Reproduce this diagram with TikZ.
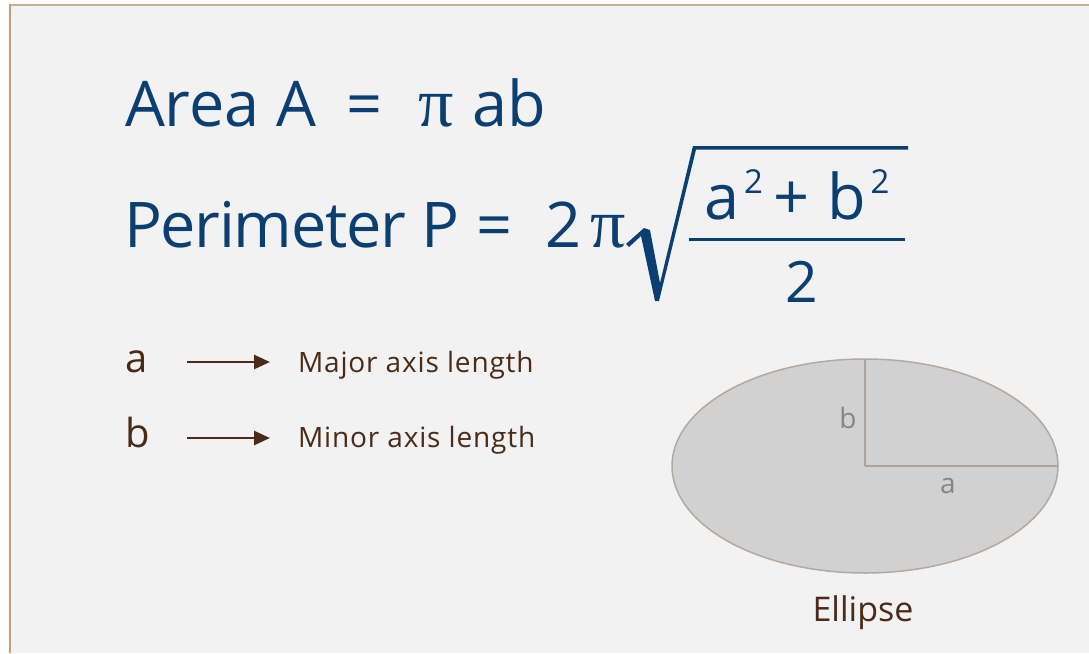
\documentclass[tikz,border=0pt]{standalone}
\usepackage{fontspec}
\setmainfont{Open Sans}
\newfontfamily\pifont{Liberation Serif}
\usetikzlibrary{shapes.geometric,arrows.meta}
\definecolor{bluetxt}{HTML}{0B3F72}
\definecolor{browntxt}{HTML}{4A2B17}
\definecolor{bgcol}{HTML}{F2F2F2}
\definecolor{bordertop}{HTML}{C8AE94}
\definecolor{borderleft}{HTML}{C49C7A}
\definecolor{ellfill}{HTML}{D1D1D1}
\definecolor{elldraw}{HTML}{B3A9A1}
\definecolor{axiscol}{HTML}{ACA39B}
\definecolor{graytxt}{HTML}{858585}
\newcommand{\supdigit}{\raisebox{26pt}{\fontsize{33}{33}\selectfont 2}}
\begin{document}
\begin{tikzpicture}[x=1pt,y=-1pt,
  every node/.style={inner sep=0pt,outer sep=0pt},
  bigtxt/.style={text=bluetxt,font=\fontsize{63}{70}\selectfont},
  dentxt/.style={text=bluetxt,font=\fontsize{57}{62}\selectfont},
  pisym/.style={text=bluetxt,font=\pifont\fontsize{70}{76}\selectfont},
  legsym/.style={text=browntxt,font=\fontsize{40}{46}\selectfont},
  legtxt/.style={text=browntxt,font=\fontsize{28}{32}\selectfont\addfontfeature{LetterSpace=3}},
  elltxt/.style={text=graytxt,font=\fontsize{28}{32}\selectfont},
  capt/.style={text=browntxt,font=\fontsize{34}{38}\selectfont},
  legarrow/.style={draw=browntxt,line width=2.6pt,-{Triangle[length=16pt,width=14pt]}},
  axisline/.style={draw=axiscol,line width=2.2pt}]
\useasboundingbox (0,0) rectangle (1089,653);
\fill[white] (0,0) rectangle (1089,653);
\fill[bgcol] (10,5) rectangle (1089,653);
\draw[bordertop,line width=2.5pt] (9,5) -- (1089,5);
\draw[borderleft,line width=2.5pt] (10,4) -- (10,653);

% Area formula
\node[bigtxt,anchor=base west] (area) at (125,126) {Area A};
\node[bigtxt,anchor=base] (eq1) at (364.5,126) {=};
\node[pisym,anchor=base west] (pi1) at (418,126) {π};
\node[bigtxt,anchor=base west] (ab) at (472,126) {ab};

% Perimeter formula
\node[bigtxt,anchor=base west,font=\fontsize{63}{70}\selectfont\addfontfeature{LetterSpace=-2}] (per) at (124,247) {Perimeter P};
\node[bigtxt,anchor=base] (eq2) at (495,247) {=};
\node[bigtxt,anchor=base west] (two) at (545,247) {2};
\node[pisym,anchor=base east] (pi2) at (626,247) {π};
\fill[bluetxt] (626,244) -- (644,228) -- (650,230) -- (660,283) -- (693,146) -- (908,146)
  -- (908,149.5) -- (696,149.5) -- (659,301) -- (655,301) -- (641,236) -- (629,247) -- cycle;
\draw[bluetxt,line width=3pt] (689,239.5) -- (905,239.5);
\node[bigtxt,anchor=base west] (num) at (704,219) {a\kern5pt\supdigit\kern11pt+\kern18pt b\kern4pt\supdigit};
\node[dentxt,anchor=base] (den) at (802,302) {2};

% Legend
\node[legsym,anchor=base west] (la) at (125,372) {a};
\node[legtxt,anchor=base west] (lmaj) at (298,372) {Major axis length};
\node[legsym,anchor=base west] (lb) at (125,447) {b};
\node[legtxt,anchor=base west] (lmin) at (298,447) {Minor axis length};
\coordinate (a1) at (187,362);
\coordinate (a2) at (270,362);
\coordinate (b1) at (187,438);
\coordinate (b2) at (270,438);
\draw[legarrow] (a1) -- (a2);
\draw[legarrow] (b1) -- (b2);

% Ellipse
\node[ellipse,draw=elldraw,fill=ellfill,line width=1.5pt,minimum width=386pt,minimum height=214pt] (E) at (865,466) {};
\draw[axisline] (E.center) -- (E.north);
\draw[axisline] (E.center) -- (E.east);
\node[elltxt,anchor=base] (eb) at (848,428) {b};
\node[elltxt,anchor=base] (ea) at (948,493) {a};
\node[capt,anchor=base] (cap) at (863,621) {Ellipse};
\end{tikzpicture}
\end{document}
